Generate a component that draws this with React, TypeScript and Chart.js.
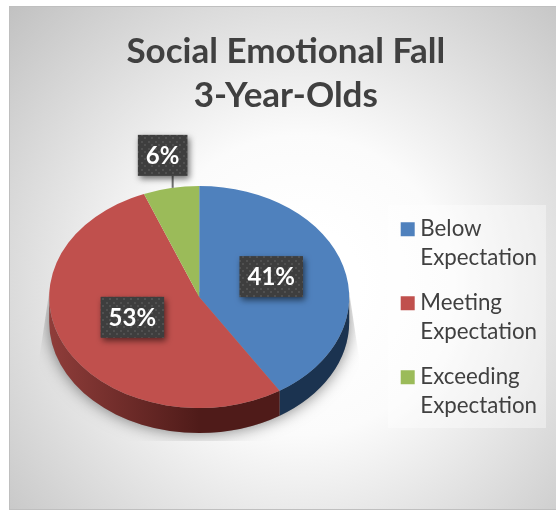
import React, { useEffect, useRef } from "react";
import { Chart, registerables } from "chart.js";

Chart.register(...registerables);

const categories: string[][] = [["Below", "Expectation"], ["Meeting", "Expectation"], ["Exceeding", "Expectation"]];
const values: number[] = [41, 53, 6];
const percentLabels: string[] = ["41%", "53%", "6%"];
const sliceColors: string[] = ["#4f81bd", "#c0504d", "#9bbb59"];
const titleLines: string[] = ["Social Emotional Fall", "3-Year-Olds"];
const labelRadii: number[] = [0.5, 0.5, 1.3];

const FONT = "Lato, Carlito, 'Open Sans', sans-serif";
const SQUASH = 0.74;
const DEPTH = 25;
const LIFT = 24;
const SHIFT = -8.2;

function dotPattern(ctx: CanvasRenderingContext2D) {
  const c = document.createElement("canvas");
  c.width = 7;
  c.height = 7;
  const g = c.getContext("2d")!;
  g.fillStyle = "#3e3e3e";
  g.fillRect(0, 0, 7, 7);
  g.fillStyle = "#505050";
  g.fillRect(1, 1, 2, 2);
  g.fillRect(4, 4, 2, 2);
  return ctx.createPattern(c, "repeat")!;
}

function ry(r: number, dx: number) {
  return SQUASH * Math.sqrt(r * r - dx * dx);
}

const panelPlugin = {
  id: "panel",
  beforeDraw(chart: any) {
    const { ctx, width, height } = chart;
    ctx.save();
    ctx.fillStyle = "#ffffff";
    ctx.fillRect(0, 0, width, height);
    const g = ctx.createRadialGradient(300, 285, 60, 300, 285, 420);
    g.addColorStop(0, "#ffffff");
    g.addColorStop(0.25, "#fbfbfb");
    g.addColorStop(1, "#bdbdbd");
    ctx.fillStyle = g;
    ctx.fillRect(9, 6, width - 9, height - 7);
    ctx.strokeStyle = "#bfbfbf";
    ctx.lineWidth = 1;
    ctx.strokeRect(9.5, 6.5, width, height - 7);
    ctx.fillStyle = "rgba(255,255,255,0.38)";
    ctx.fillRect(388, 205, 158, 223);
    ctx.restore();
  },
};

const pie3dPlugin = {
  id: "pie3d",
  beforeDatasetsDraw(chart: any) {
    const { ctx } = chart;
    const arcs = chart.getDatasetMeta(0).data;
    const { y: cy, outerRadius: r } = arcs[0];
    const cx = arcs[0].x + SHIFT;
    const ty = cy - LIFT;
    const eh = r * SQUASH;
    ctx.save();
    // ground shadow, cut off by a hard outline as in the picture
    ctx.save();
    ctx.beginPath();
    ctx.moveTo(cx - r, ty - 5);
    ctx.lineTo(cx - r - 10, ty + 62);
    ctx.lineTo(cx - r - 10, ty + eh + DEPTH + 8);
    ctx.lineTo(cx + r + 10, ty + eh + DEPTH + 8);
    ctx.lineTo(cx + r + 10, ty + 62);
    ctx.lineTo(cx + r, ty - 5);
    ctx.closePath();
    ctx.clip();
    ctx.shadowColor = "rgba(0,0,0,0.5)";
    ctx.shadowBlur = 16;
    ctx.fillStyle = "#9a9a9a";
    ctx.beginPath();
    ctx.ellipse(cx, ty + DEPTH, r, eh, 0, 0, Math.PI * 2);
    ctx.fill();
    ctx.restore();
    // side wall
    const wallColor = (i: number) => {
      if (i === 0) return "#1b3350";
      const g = ctx.createLinearGradient(cx - r, 0, cx, 0);
      g.addColorStop(0, "#8f3d3a");
      g.addColorStop(1, "#4f1b19");
      return g;
    };
    arcs.forEach((a: any, i: number) => {
      const start = Math.max(a.startAngle, 0);
      const end = Math.min(a.endAngle, Math.PI);
      if (end <= start) return;
      ctx.fillStyle = wallColor(i);
      ctx.beginPath();
      ctx.ellipse(cx, ty, r, eh, 0, start, end);
      ctx.ellipse(cx, ty + DEPTH, r, eh, 0, end, start, true);
      ctx.closePath();
      ctx.fill();
    });
    ctx.restore();
    // squash the circular pie that Chart.js draws next
    ctx.save();
    ctx.translate(SHIFT, ty);
    ctx.scale(1, SQUASH);
    ctx.translate(0, -cy);
  },
  afterDatasetsDraw(chart: any) {
    const { ctx } = chart;
    ctx.restore();
    const arcs = chart.getDatasetMeta(0).data;
    const pattern = dotPattern(ctx);
    arcs.forEach((a: any, i: number) => {
      const { y: cy, outerRadius: r } = a;
      const cx = a.x + SHIFT;
      const ty = cy - LIFT;
      const mid = (a.startAngle + a.endAngle) / 2;
      const k = labelRadii[i];
      const lx = cx + Math.cos(mid) * r * k;
      const ly = ty + Math.sin(mid) * r * SQUASH * k - (k < 1 ? 5 : 0);
      ctx.save();
      ctx.font = `bold 24px ${FONT}`;
      const tw = ctx.measureText(percentLabels[i]).width;
      const w = tw + 16;
      const h = 41;
      if (k > 1) {
        const edgeX = lx + 10;
        const edgeY = ty - ry(r, edgeX - cx);
        ctx.strokeStyle = "#6e6e6e";
        ctx.lineWidth = 2;
        ctx.beginPath();
        ctx.moveTo(edgeX, ly + h / 2);
        ctx.lineTo(edgeX, edgeY);
        ctx.stroke();
      }
      ctx.shadowColor = "rgba(0,0,0,0.55)";
      ctx.shadowBlur = 6;
      ctx.shadowOffsetX = 2;
      ctx.shadowOffsetY = 3;
      ctx.fillStyle = pattern;
      ctx.fillRect(lx - w / 2, ly - h / 2, w, h);
      ctx.shadowColor = "transparent";
      ctx.shadowBlur = 0;
      ctx.shadowOffsetX = 0;
      ctx.shadowOffsetY = 0;
      ctx.fillStyle = "#ffffff";
      ctx.textAlign = "center";
      ctx.textBaseline = "middle";
      ctx.fillText(percentLabels[i], lx, ly + 1);
      ctx.restore();
    });
  },
};

export default function App() {
  const ref = useRef<HTMLCanvasElement | null>(null);
  useEffect(() => {
    const chart = new Chart(ref.current!, {
      type: "pie",
      data: {
        labels: categories as any,
        datasets: [{ data: values, backgroundColor: sliceColors, borderWidth: 0, radius: 150 } as any],
      },
      options: {
        animation: false,
        responsive: false,
        layout: { padding: { left: 24.6, right: 9, top: 0, bottom: 17 } },
        plugins: {
          tooltip: { enabled: false },
          title: {
            display: true,
            text: titleLines,
            color: "#404040",
            font: { family: FONT, size: 35, weight: "bold", lineHeight: 1.26 },
            padding: { top: 30, bottom: 31 },
          },
          legend: {
            position: "right",
            fullSize: false,
            labels: {
              color: "#404040",
              font: { family: FONT, size: 22.3, lineHeight: 1.3 },
              boxWidth: 3,
              boxHeight: 3,
              padding: 16,
              generateLabels: () =>
                categories.map((text, i) => ({
                  text: text as any,
                  fillStyle: sliceColors[i],
                  strokeStyle: sliceColors[i],
                  lineWidth: 11,
                  hidden: false,
                  index: i,
                  fontColor: "#404040",
                })),
            },
          },
        },
      },
      plugins: [panelPlugin, pie3dPlugin],
    });
    return () => chart.destroy();
  }, []);
  return (
    <div style={{ position: "fixed", left: 0, top: 0 }}>
      <canvas ref={ref} width={556} height={510} style={{ display: "block" }} />
    </div>
  );
}
